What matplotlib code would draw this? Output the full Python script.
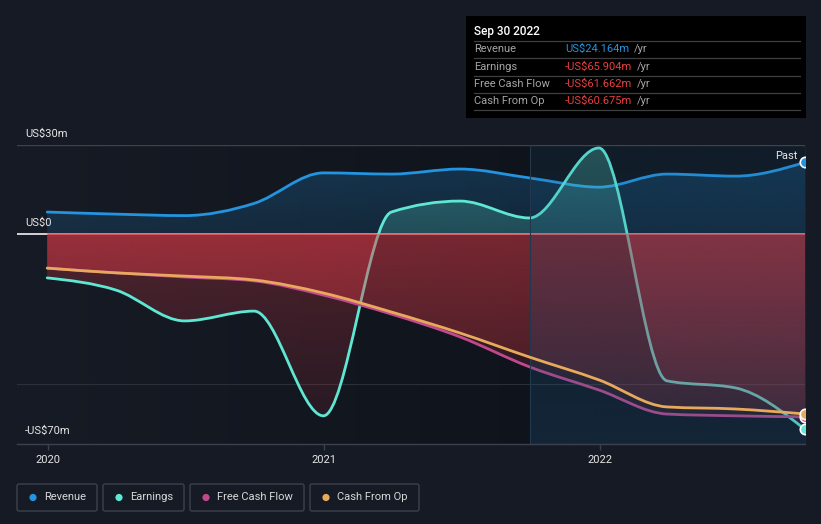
import numpy as np
import matplotlib
matplotlib.use('Agg')
import matplotlib.pyplot as plt
import matplotlib.dates as mdates
from matplotlib.path import Path
from matplotlib.patches import PathPatch, Rectangle, FancyBboxPatch, Circle
from matplotlib.colors import to_rgb
import datetime as dt

plt.rcParams['font.family'] = ['Roboto', 'DejaVu Sans']

# ---------------- data (US$ millions, trailing twelve months) ----------------
periods = ['2019-12-31', '2020-03-31', '2020-06-30', '2020-09-30', '2020-12-31',
           '2021-03-31', '2021-06-30', '2021-09-30', '2021-12-31', '2022-03-31',
           '2022-06-30', '2022-09-30']
revenue = [7.4, 6.7, 6.2, 10.3, 20.6, 20.2, 21.9, 18.9, 15.8, 20.2, 19.5, 24.164]
earnings = [-14.8, -18.9, -29.3, -26.0, -61.3, 7.4, 11.1, 5.4, 29.0, -49.5, -51.9, -65.904]
free_cash_flow = [-11.5, -13.1, -14.5, -15.8, -20.6, -27.0, -34.7, -44.8, -52.6, -60.7, -61.3, -61.662]
cash_from_op = [-11.5, -13.1, -14.2, -15.5, -19.9, -26.3, -33.4, -41.5, -49.2, -58.3, -59.0, -60.675]

series_names = ['Revenue', 'Earnings', 'Free Cash Flow', 'Cash From Op']
series_colors = ['#2394df', '#5ee8d4', '#c2488e', '#e8a95c']
tooltip_title = 'Sep 30 2022'
tooltip_values = ['US$24.164m', '-US$65.904m', '-US$61.662m', '-US$60.675m']
y_tick_values = [30, 0, -70]
y_tick_labels = ['US$30m', 'US$0', '-US$70m']
x_tick_years = [2020, 2021, 2022]
past_start = '2021-09-30'

BG = '#151a24'
W, H = 821, 524

fig = plt.figure(figsize=(W / 100, H / 100), dpi=100, facecolor=BG)

def px_rect(l, t, r, b):
    return [l / W, 1 - b / H, (r - l) / W, (b - t) / H]

ax = fig.add_axes(px_rect(17, 145, 805, 444))
ax.set_facecolor(BG)

xs = mdates.date2num([dt.datetime.strptime(p, '%Y-%m-%d') for p in periods])
x_min = mdates.date2num(dt.datetime(2019, 11, 21))
x_max = xs[-1]
y_min, y_max = -70.8, 30.0


def mono_slopes(x, y):
    x = np.asarray(x, float)
    y = np.asarray(y, float)
    n = len(x)
    h = np.diff(x)
    s = np.diff(y) / h
    t = np.zeros(n)
    for i in range(1, n - 1):
        h0, h1 = h[i - 1], h[i]
        s0, s1 = s[i - 1], s[i]
        p = (s0 * h1 + s1 * h0) / (h0 + h1)
        t[i] = (np.sign(s0) + np.sign(s1)) * min(abs(s0), abs(s1), 0.5 * abs(p))
    t[0] = (3 * s[0] - t[1]) / 2
    t[-1] = (3 * s[-1] - t[-2]) / 2
    return t


def curve_path(x, y, closed=False):
    t = mono_slopes(x, y)
    verts = [(x[0], y[0])]
    codes = [Path.MOVETO]
    for i in range(len(x) - 1):
        dx = (x[i + 1] - x[i]) / 3
        verts += [(x[i] + dx, y[i] + dx * t[i]),
                  (x[i + 1] - dx, y[i + 1] - dx * t[i + 1]),
                  (x[i + 1], y[i + 1])]
        codes += [Path.CURVE4] * 3
    if closed:
        verts += [(x[-1], 0), (x[0], 0), (x[0], y[0])]
        codes += [Path.LINETO, Path.LINETO, Path.CLOSEPOLY]
    return Path(verts, codes)


def vgrad(color, a_top, a_bot, extent, zorder, clip=None):
    n = 256
    img = np.zeros((n, 1, 4))
    img[:, :, :3] = to_rgb(color)
    img[:, 0, 3] = np.linspace(a_top, a_bot, n)
    im = ax.imshow(img, extent=extent, aspect='auto', origin='upper',
                   zorder=zorder, interpolation='bilinear')
    if clip is not None:
        im.set_clip_path(clip, ax.transData)
    return im


# background horizontal gradient
bgimg = np.zeros((1, 256, 3))
left_c = np.array(to_rgb('#161b25'))
right_c = np.array(to_rgb('#0f131b'))
for j, f in enumerate(np.linspace(0, 1, 256)):
    bgimg[0, j] = left_c * (1 - min(f * 1.4, 1)) + right_c * min(f * 1.4, 1)
ax.imshow(bgimg, extent=[x_min, x_max, y_min, y_max], aspect='auto', zorder=0,
          interpolation='bilinear')

# grid / zero lines
ax.axhline(30, color='#3c424d', lw=1, zorder=1)
ax.axhline(-50.5, color='#2a2f38', lw=0.8, zorder=1)
ax.plot([x_min, xs[0]], [0, 0], color='#f2f2f2', lw=1.2, zorder=1.5)
ax.plot([xs[0], x_max], [0, 0], color='#f0a2a2', lw=1.2, zorder=1.5)

all_series = [revenue, earnings, free_cash_flow, cash_from_op]
pos_alpha = {0: (0.27, 0.15), 1: (0.30, 0.20)}
for k, (vals, col) in enumerate(zip(all_series, series_colors)):
    z = 2 + 2 * k
    fill_path = curve_path(xs, vals, closed=True)
    if k in pos_alpha:
        vgrad(col, pos_alpha[k][0], pos_alpha[k][1], [x_min, x_max, 0, y_max], z, fill_path)
    if min(vals) < 0:
        vgrad('#e23c48', 0.29, 0.08, [x_min, x_max, y_min, 0], z, fill_path)
    line = PathPatch(curve_path(xs, vals), facecolor='none', edgecolor=col,
                     lw=2.0, zorder=z + 1, capstyle='round', joinstyle='round')
    ax.add_patch(line)

# past region overlay
px0 = mdates.date2num(dt.datetime.strptime(past_start, '%Y-%m-%d'))
vgrad('#1f5a88', 0.13, 0.26, [px0, x_max, y_min, y_max], 8.5)
ax.axvline(px0, color='#22384c', lw=0.8, zorder=8.6)

# end markers
for vals, col in zip([free_cash_flow, cash_from_op, earnings, revenue],
                     [series_colors[2], series_colors[3], series_colors[1], series_colors[0]]):
    ax.plot([xs[-1]], [vals[-1]], 'o', ms=7.5, mfc=col, mec='white', mew=1.2, zorder=12)

ax.set_xlim(x_min, x_max)
ax.set_ylim(y_min, y_max)
ax.set_yticks([])
xt = mdates.date2num([dt.datetime(y, 1, 1) for y in x_tick_years])
ax.set_xticks(xt)
ax.set_xticklabels([str(y) for y in x_tick_years])
ax.tick_params(axis='x', colors='#3c424d', labelcolor='#e6e6e6', labelsize=8,
               length=4, width=1, pad=4)
for sp in ['top', 'left', 'right']:
    ax.spines[sp].set_visible(False)
ax.spines['bottom'].set_color('#3c424d')
ax.spines['bottom'].set_linewidth(1)

# ---------------- overlay in pixel coordinates ----------------
ov = fig.add_axes([0, 0, 1, 1], facecolor='none')
ov.set_xlim(0, W)
ov.set_ylim(H, 0)
ov.axis('off')

for val, lab in zip(y_tick_values, y_tick_labels):
    ypx = 234 - val * (89 / 30)
    ov.text(25, ypx - 6, lab, color='#e6e6e6', fontsize=8, ha='left', va='bottom')

ov.text(797, 156, 'Past', color='#e6e6e6', fontsize=8, ha='right', va='center')

# tooltip
ov.add_patch(Rectangle((466, 16), 340, 102, facecolor='#000000', edgecolor='none', zorder=5))
ov.text(474, 31, tooltip_title, color='#ffffff', fontsize=8.5, fontweight='medium',
        ha='left', va='center', zorder=6)
row_y = [49, 66.5, 84, 101]
sep_y = [41, 58, 75.5, 93, 110]
for sy in sep_y:
    ov.plot([474, 800], [sy, sy], color='#3f3f3f', lw=0.9, zorder=6)
for ry, name, val, col in zip(row_y, series_names, tooltip_values,
                              ['#2394df', '#e8403f', '#e8403f', '#e8403f']):
    ov.text(474, ry, name, color='#a5a5a5', fontsize=8, ha='left', va='center', zorder=6)
    t = ov.text(565, ry, val, color=col, fontsize=8, ha='left', va='center', zorder=6)
    fig.canvas.draw()
    bb = t.get_window_extent()
    ov.text(bb.x1 + 5, ry, '/yr', color='#a5a5a5', fontsize=8, ha='left', va='center',
            zorder=6)

# legend
leg_boxes = [(17, 97), (103, 184), (190, 304), (310, 419)]
for (l, r), name, col in zip(leg_boxes, series_names, series_colors):
    ov.add_patch(FancyBboxPatch((l, 484), r - l, 27, boxstyle='round,pad=0,rounding_size=2',
                                facecolor='none', edgecolor='#3c424d', lw=1))
    ov.add_patch(Circle((l + 16, 497.5), 3.6, facecolor=col, edgecolor='none'))
    ov.text(l + 27, 497, name, color='#d8d8d8', fontsize=8, ha='left', va='center')

fig.savefig('out.png', dpi=100, facecolor=BG)
